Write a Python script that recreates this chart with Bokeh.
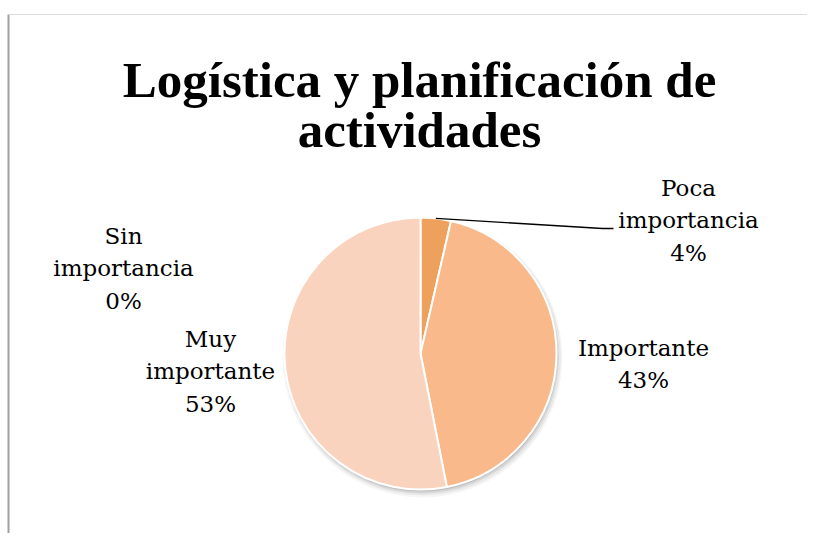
import math
from bokeh.plotting import figure
from bokeh.models import Range1d, ColumnDataSource
from bokeh.core.properties import value
from bokeh.embed import file_html
from bokeh.resources import INLINE

# ---- data ----
categories = ["Poca importancia", "Importante", "Muy importante", "Sin importancia"]
label_lines = [["Poca", "importancia"], ["Importante"], ["Muy", "importante"], ["Sin", "importancia"]]
shares = [3.6, 43.3, 53.1, 0.0]
colors = ["#EDA15C", "#F9B98B", "#F9D3BE", "#F4C7A8"]
title_lines = ["Logística y planificación de", "actividades"]

W, H = 807, 533
OX, OY = 0, 0  # page offset of the plot canvas


def py(y):  # page y -> data y
    return 541 - y


p = figure(width=W, height=H, output_backend="svg", toolbar_location=None,
           x_range=Range1d(OX, OX + W), y_range=Range1d(541 - OY - H, 541 - OY),
           min_border=0)
p.axis.visible = False
p.grid.visible = False
p.outline_line_color = None
p.background_fill_color = "white"

# frame lines
p.segment(x0=[8, 8], y0=[py(14), py(14)], x1=[8, 815], y1=[py(541), py(14)],
          line_color=["#a0a0a0", "#dcdcdc"], line_width=[2, 1])

cx, cy, R = 420, py(353), 136

# soft shadow
for dr, dx, dy, a in [(4, 2, -4, 0.05), (2.5, 2, -3.5, 0.08), (1, 1.5, -3, 0.12), (0, 1, -2, 0.18)]:
    p.circle(x=[cx + dx], y=[cy + dy], radius=R + dr, radius_units="screen",
             fill_color="#555555", fill_alpha=a, line_color=None)

total = sum(shares)
starts, ends, cum = [], [], 0.0
for s in shares:
    starts.append(math.pi / 2 - 2 * math.pi * cum / total)
    cum += s
    ends.append(math.pi / 2 - 2 * math.pi * cum / total)

keep = [i for i, s in enumerate(shares) if s > 0]
src = ColumnDataSource(dict(start=[starts[i] for i in keep], end=[ends[i] for i in keep],
                            color=[colors[i] for i in keep], cat=[categories[i] for i in keep]))
p.wedge(x=cx, y=cy, radius=R, radius_units="screen", start_angle="start", end_angle="end",
        direction="clock", fill_color="color", line_color="white", line_width=2, source=src)

# title
font = value("DejaVu Serif")
p.text(x=[419, 419], y=[py(79), py(129)], text=title_lines, text_font=value("Liberation Serif"),
       text_font_style="bold", text_font_size="51px", text_align="center",
       text_baseline="middle", text_color="black")

# data labels
pct = [f"{round(s / total * 100):d}%" for s in shares]
label_pos = [(688, 187), (643, 347), (210, 338), (123, 235)]
lx, ly, lt = [], [], []
for (x0, y0), lines, pc in zip(label_pos, label_lines, pct):
    for k, t in enumerate(lines + [pc]):
        lx.append(x0)
        ly.append(py(y0 + 32.5 * k))
        lt.append(t)
p.text(x=lx, y=ly, text=lt, text_font=font, text_font_size="23px", text_align="center",
       text_baseline="middle", text_color="black")

# leader line for the small slice
mid = (starts[0] + ends[0]) / 2
ex, ey = cx + R * math.cos(mid), cy + R * math.sin(mid)
p.line(x=[ex, 602, 613], y=[ey, py(228), py(228)], line_color="black", line_width=1.3)

open("out.html", "w").write(file_html(p, INLINE))
